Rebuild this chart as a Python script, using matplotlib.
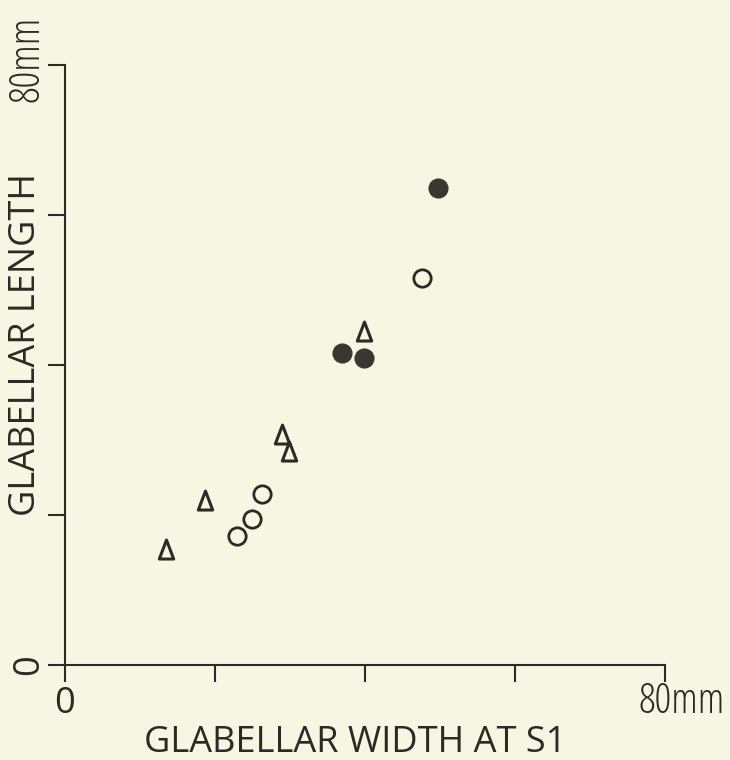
import numpy as np
import matplotlib.pyplot as plt
from matplotlib.path import Path

# glabellar width (x) and length (y), mm
tri_x = [13.5, 18.7, 28.9, 29.9, 39.9]
tri_y = [15.3, 21.9, 30.7, 28.4, 44.4]
open_x = [22.9, 24.9, 26.3, 47.6]
open_y = [17.2, 19.5, 22.8, 51.6]
fill_x = [36.9, 39.9, 49.7]
fill_y = [41.6, 40.9, 63.6]

ticks = [0, 20, 40, 60, 80]

ink = '#2e2925'
bg = '#f7f6e3'

# narrow triangle marker
tri = Path([(0, 0.55), (-0.38, -0.45), (0.38, -0.45), (0, 0.55)],
           [Path.MOVETO, Path.LINETO, Path.LINETO, Path.CLOSEPOLY])

fig = plt.figure(figsize=(7.3, 7.6), dpi=100, facecolor=bg)
ax = fig.add_axes([65/730, 1-665/760, 600/730, 600/760])
ax.set_facecolor(bg)

ax.plot(tri_x, tri_y, ls='none', marker=tri, ms=15, mfc='none', mec=ink, mew=2.2)
ax.plot(open_x, open_y, ls='none', marker='o', ms=12.5, mfc='none', mec=ink, mew=2)
ax.plot(fill_x, fill_y, ls='none', marker='o', ms=13.5, mfc='#3a3632', mec='#3a3632')

ax.set_xlim(0, 80)
ax.set_ylim(0, 80)
for s in ['top', 'right']:
    ax.spines[s].set_visible(False)
for s in ['left', 'bottom']:
    ax.spines[s].set_color(ink)
    ax.spines[s].set_linewidth(1.5)
ax.set_xticks(ticks)
ax.set_yticks(ticks)
ax.set_xticklabels([])
ax.set_yticklabels([])
ax.tick_params(direction='out', length=12, width=1.5, color=ink)

tx = dict(color=ink, fontsize=26, family='Open Sans', rotation_mode='anchor')
mm = dict(color=ink, fontsize=30, family='Open Sans', stretch='condensed', rotation_mode='anchor')
ax.text(0, -6.4, '0', ha='center', va='baseline', **tx)
ax.text(76.4, -6.4, '80mm', ha='left', va='baseline', **mm)
ax.text(-3.6, 0, '0', ha='center', va='baseline', rotation=90, **tx)
ax.text(-3.6, 75.1, '80mm', ha='left', va='baseline', rotation=90, **mm)
ax.text(38.7, -11.6, 'GLABELLAR WIDTH AT S1', ha='center', va='baseline', **tx)
ax.text(-4.0, 42.8, 'GLABELLAR LENGTH', ha='center', va='baseline', rotation=90, **tx)

fig.savefig('out.png', dpi=100, facecolor=bg)
